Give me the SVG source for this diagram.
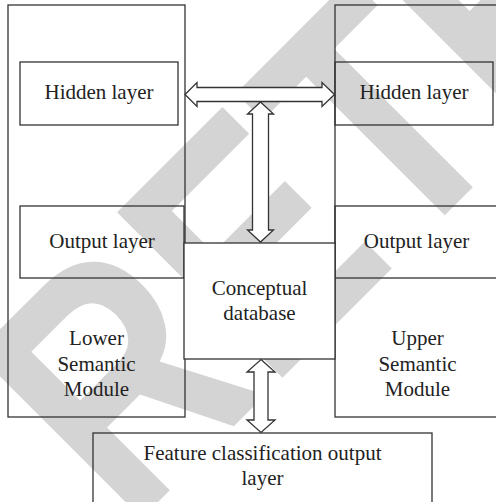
<svg xmlns="http://www.w3.org/2000/svg" width="496" height="502" viewBox="0 0 496 502">
  <style>
    .box { fill: none; stroke: #333; stroke-width: 1.3; }
    .solid { fill: #fff; stroke: #333; stroke-width: 1.3; }
    .arrow { fill: #fff; stroke: #333; stroke-width: 1.3; stroke-linejoin: miter; }
    .lbl { font-family: "Liberation Serif", "Times New Roman", serif; font-size: 21px; fill: #222; text-anchor: middle; }
    .mark { font-family: "Liberation Sans", Arial, sans-serif; font-weight: bold; font-size: 340px; fill: #d4d4d4; }
  </style>
  <rect width="496" height="502" fill="#fff"/>

  <!-- background stamp -->
  <text class="mark" transform="translate(128.8,531.3) rotate(-45) scale(0.81,1)">RETRACTED</text>

  <g id="lower-module">
    <rect class="box" x="8" y="5" width="177" height="412"/>
    <text class="lbl" x="96.5" y="345">Lower</text>
    <text class="lbl" x="96.5" y="370.5">Semantic</text>
    <text class="lbl" x="96.5" y="396">Module</text>
  </g>
  <g id="lower-hidden">
    <rect class="box" x="20" y="62" width="158" height="63"/>
    <text class="lbl" x="99" y="99">Hidden layer</text>
  </g>
  <g id="lower-output">
    <rect class="box" x="20" y="206" width="164" height="72"/>
    <text class="lbl" x="102" y="248">Output layer</text>
  </g>

  <g id="upper-module">
    <rect class="box" x="335" y="5" width="170" height="412"/>
    <text class="lbl" x="417.5" y="345">Upper</text>
    <text class="lbl" x="417.5" y="370.5">Semantic</text>
    <text class="lbl" x="417.5" y="396">Module</text>
  </g>
  <g id="upper-hidden">
    <rect class="box" x="335" y="62" width="158" height="63"/>
    <text class="lbl" x="414" y="99">Hidden layer</text>
  </g>
  <g id="upper-output">
    <rect class="box" x="335" y="206" width="170" height="72"/>
    <text class="lbl" x="416.5" y="248">Output layer</text>
  </g>

  <g id="conceptual-database">
    <rect class="solid" x="184" y="243" width="151" height="116"/>
    <text class="lbl" x="259.5" y="295">Conceptual</text>
    <text class="lbl" x="259.5" y="319.5">database</text>
  </g>

  <g id="feature-output">
    <rect class="box" x="93" y="433" width="339" height="80"/>
    <text class="lbl" x="262.5" y="460">Feature classification output</text>
    <text class="lbl" x="262.5" y="485">layer</text>
  </g>

  <g id="connectors">
    <!-- hidden layer <-> hidden layer -->
    <polygon class="arrow" points="185,94.5 197,82.5 197,87.5 322,87.5 322,82.5 334.5,94.5 322,106.5 322,101.5 197,101.5 197,106.5"/>
    <!-- hidden link <-> conceptual database -->
    <polygon class="arrow" points="260.5,102 273.5,114 268.5,114 268.5,230 273.5,230 260.5,242 247.5,230 252.5,230 252.5,114 247.5,114"/>
    <!-- conceptual database <-> feature classification -->
    <polygon class="arrow" points="261,359.5 275,372 268,372 268,420 275,420 261,432.5 247,420 254,420 254,372 247,372"/>
  </g>
</svg>
